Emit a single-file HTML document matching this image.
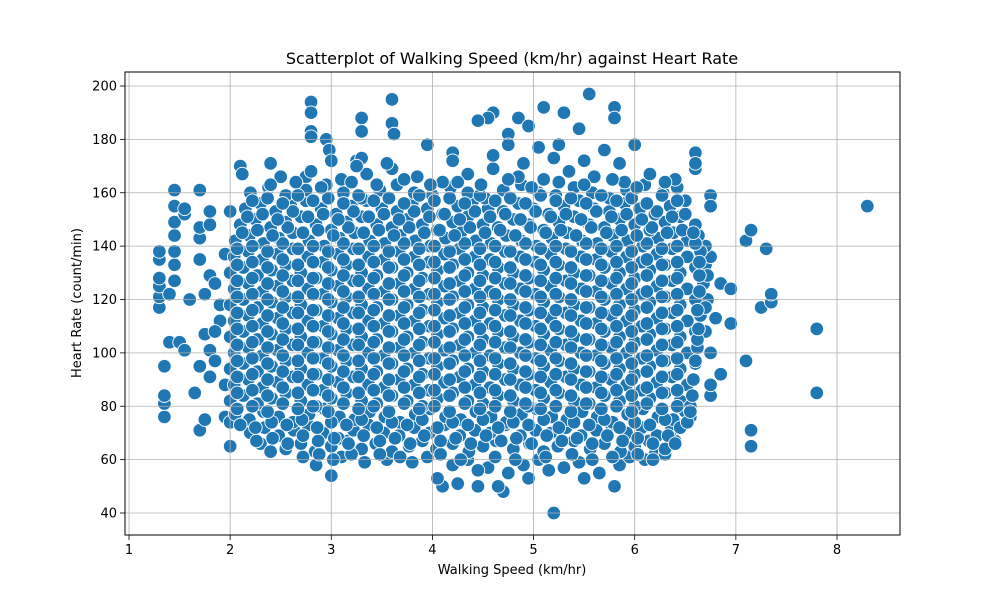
<!DOCTYPE html>
<html><head><meta charset="utf-8"><style>
body{margin:0;background:#fff;}
svg text{font-family:"DejaVu Sans","Liberation Sans",sans-serif;fill:#000;}
</style></head><body>
<svg id="chart" width="1000" height="600" viewBox="0 0 1000 600" xmlns="http://www.w3.org/2000/svg">
<rect width="1000" height="600" fill="#fff"/>
<g id="marks"></g>
<g id="grid"></g>
<rect x="125" y="72" width="775" height="463" fill="none" stroke="#000" stroke-width="1"/>
<g id="axes"></g>
<text x="512" y="64" font-size="16" text-anchor="middle">Scatterplot of Walking Speed (km/hr) against Heart Rate</text>
<text x="512" y="574" font-size="13" text-anchor="middle">Walking Speed (km/hr)</text>
<text x="0" y="0" font-size="13" text-anchor="middle" transform="translate(81,303) rotate(-90)">Heart Rate (count/min)</text>
</svg>
<script>
const xTicks = [1,2,3,4,5,6,7,8];
const yTicks = [40,60,80,100,120,140,160,180,200];
const observations = [
[1.3,117],[1.3,121],[1.3,125],[1.3,128],[1.3,135],[1.3,138],[1.35,76],[1.35,81],[1.35,84],[1.35,95],[1.4,104],[1.4,122],[1.45,127],[1.45,133],[1.45,138],[1.45,144],[1.45,149],[1.45,155],[1.45,161],[1.5,104],[1.55,101],[1.55,152],[1.55,154],[1.6,120],[1.65,85],[1.7,71],[1.7,95],[1.7,135],[1.7,143],[1.7,147],[1.7,161],[1.75,75],[1.75,107],[1.75,122],[1.8,91],[1.8,101],[1.8,129],[1.8,148],[1.8,153],[1.85,97],[1.85,126],[1.9,112],[1.95,76],[1.95,88],[1.95,137],[2.0,65],[2.0,74],[2.0,153],[1.9,118],[1.85,108],
[7.1,97],[7.1,142],[7.15,65],[7.15,71],[7.15,146],[7.25,117],[7.3,139],[7.35,119],[7.35,122],[7.8,85],[7.8,109],[8.3,155],[6.85,126],[6.8,113],[6.85,92],[6.95,124],[6.95,111],[6.75,84],[6.75,88],[6.75,159],[6.75,155],[6.7,133],[6.75,136],[6.7,140],[6.6,169],[6.6,175],[6.6,171],[6.7,108],[6.75,100],[6.72,120],
[5.2,40],[4.7,48],[5.8,50],[4.1,50],[4.05,53],[4.25,51],[4.45,50],[4.65,50],[4.95,53],[5.5,53],[2.8,194],[2.8,190],[2.8,183],[2.8,181],[3.6,195],[5.55,197],[5.8,192],[5.8,188],[5.1,192],[4.6,190],[4.55,188],[4.85,188],[5.3,190],[3.3,188],[3.3,183],[3.0,54],[2.85,58],[6.2,62],[6.3,62],[6.4,67],[6.55,76],[2.95,180],[2.98,176],[3.6,186],[3.62,182],[4.45,187],[4.95,185],[4.75,182],[5.45,184],[5.25,178],[6.0,178],[3.95,178],[2.4,171],[2.1,170],[2.12,167],[2.75,166],[3.25,172],[4.2,175],[5.7,176],
[3.8,59],[3.95,61],[4.2,58],[4.35,60],[4.55,57],[4.75,55],[4.9,58],[5.05,60],[5.3,57],[5.45,59],[5.65,55],[5.85,58],[3.55,60],[3.1,61],[5.95,61],[6.1,60],[4.45,56],[5.15,56],
[2.55,64],[2.7,66],[2.84,63],[3.0,65],[3.16,67],[3.3,64],[3.44,66],[3.6,63],[3.77,65],[3.9,67],[4.04,64],[4.2,66],[4.36,63],[4.5,65],[4.63,67],[4.8,64],[4.96,66],[5.1,63],[5.24,65],[5.4,67],[5.56,64],[5.7,66],[5.86,63],[6.0,65],[6.14,67],[6.3,64],[2.3,66],[2.4,63],
[2.2,70],[2.34,72],[2.48,69],[2.63,71],[2.77,73],[2.92,70],[3.07,68],[3.22,71],[3.37,73],[3.52,70],[3.67,69],[3.82,72],[3.97,70],[4.12,73],[4.27,69],[4.42,71],[4.57,70],[4.72,73],[4.87,69],[5.02,71],[5.17,70],[5.32,72],[5.47,69],[5.62,71],[5.77,73],[5.92,70],[6.07,72],[6.22,69],[6.36,71],[6.45,73],
[2.05,77],[2.19,75],[2.33,78],[2.48,76],[2.62,74],[2.78,77],[2.93,79],[3.08,76],[3.23,75],[3.38,78],[3.53,76],[3.68,74],[3.83,77],[3.98,79],[4.13,76],[4.28,75],[4.43,78],[4.58,76],[4.73,74],[4.88,77],[5.03,79],[5.18,76],[5.33,75],[5.48,78],[5.63,76],[5.78,74],[5.93,77],[6.08,79],[6.23,76],[6.38,75],[6.5,78],
[2.0,82],[2.13,84],[2.27,81],[2.41,83],[2.55,85],[2.7,82],[2.85,80],[3.0,83],[3.15,85],[3.3,82],[3.45,81],[3.6,84],[3.75,82],[3.9,80],[4.05,83],[4.2,85],[4.35,82],[4.5,81],[4.65,84],[4.8,82],[4.95,80],[5.1,83],[5.25,85],[5.4,82],[5.55,81],[5.7,84],[5.85,82],[6.0,80],[6.15,83],[6.3,85],[6.45,82],[6.55,80],
[2.04,88],[2.18,90],[2.32,87],[2.47,89],[2.62,91],[2.77,88],[2.92,86],[3.07,89],[3.22,91],[3.37,88],[3.52,87],[3.67,90],[3.82,88],[3.97,86],[4.12,89],[4.27,91],[4.42,88],[4.57,87],[4.72,90],[4.87,88],[5.02,86],[5.17,89],[5.32,91],[5.47,88],[5.62,87],[5.77,90],[5.92,88],[6.07,86],[6.22,89],[6.37,91],[6.52,88],
[2.0,94],[2.13,96],[2.27,93],[2.41,95],[2.55,97],[2.7,94],[2.85,92],[3.0,95],[3.15,97],[3.3,94],[3.45,93],[3.6,96],[3.75,94],[3.9,92],[4.05,95],[4.2,97],[4.35,94],[4.5,93],[4.65,96],[4.8,94],[4.95,92],[5.1,95],[5.25,97],[5.4,94],[5.55,93],[5.7,96],[5.85,94],[6.0,92],[6.15,95],[6.3,97],[6.45,94],[6.6,96],
[2.04,100],[2.18,102],[2.32,99],[2.47,101],[2.62,103],[2.77,100],[2.92,98],[3.07,101],[3.22,103],[3.37,100],[3.52,99],[3.67,102],[3.82,100],[3.97,98],[4.12,101],[4.27,103],[4.42,100],[4.57,99],[4.72,102],[4.87,100],[5.02,98],[5.17,101],[5.32,103],[5.47,100],[5.62,99],[5.77,102],[5.92,100],[6.07,98],[6.22,101],[6.37,103],[6.52,100],[6.62,102],
[2.0,106],[2.13,108],[2.27,105],[2.41,107],[2.55,109],[2.7,106],[2.85,104],[3.0,107],[3.15,109],[3.3,106],[3.45,105],[3.6,108],[3.75,106],[3.9,104],[4.05,107],[4.2,109],[4.35,106],[4.5,105],[4.65,108],[4.8,106],[4.95,104],[5.1,107],[5.25,109],[5.4,106],[5.55,105],[5.7,108],[5.85,106],[6.0,104],[6.15,107],[6.3,109],[6.45,106],[6.6,108],
[2.04,112],[2.18,114],[2.32,111],[2.47,113],[2.62,115],[2.77,112],[2.92,110],[3.07,113],[3.22,115],[3.37,112],[3.52,111],[3.67,114],[3.82,112],[3.97,110],[4.12,113],[4.27,115],[4.42,112],[4.57,111],[4.72,114],[4.87,112],[5.02,110],[5.17,113],[5.32,115],[5.47,112],[5.62,111],[5.77,114],[5.92,112],[6.07,110],[6.22,113],[6.37,115],[6.52,112],[6.65,114],
[2.0,118],[2.13,120],[2.27,117],[2.41,119],[2.55,121],[2.7,118],[2.85,116],[3.0,119],[3.15,121],[3.3,118],[3.45,117],[3.6,120],[3.75,118],[3.9,116],[4.05,119],[4.2,121],[4.35,118],[4.5,117],[4.65,120],[4.8,118],[4.95,116],[5.1,119],[5.25,121],[5.4,118],[5.55,117],[5.7,120],[5.85,118],[6.0,116],[6.15,119],[6.3,121],[6.45,118],[6.6,120],[6.7,117],
[2.04,124],[2.18,126],[2.32,123],[2.47,125],[2.62,127],[2.77,124],[2.92,122],[3.07,125],[3.22,127],[3.37,124],[3.52,123],[3.67,126],[3.82,124],[3.97,122],[4.12,125],[4.27,127],[4.42,124],[4.57,123],[4.72,126],[4.87,124],[5.02,122],[5.17,125],[5.32,127],[5.47,124],[5.62,123],[5.77,126],[5.92,124],[6.07,122],[6.22,125],[6.37,127],[6.52,124],[6.68,126],
[2.0,130],[2.13,132],[2.27,129],[2.41,131],[2.55,133],[2.7,130],[2.85,128],[3.0,131],[3.15,133],[3.3,130],[3.45,129],[3.6,132],[3.75,130],[3.9,128],[4.05,131],[4.2,133],[4.35,130],[4.5,129],[4.65,132],[4.8,130],[4.95,128],[5.1,131],[5.25,133],[5.4,130],[5.55,129],[5.7,132],[5.85,130],[6.0,128],[6.15,131],[6.3,133],[6.45,130],[6.6,132],[6.72,129],
[2.04,136],[2.18,138],[2.32,135],[2.47,137],[2.62,139],[2.77,136],[2.92,134],[3.07,137],[3.22,139],[3.37,136],[3.52,135],[3.67,138],[3.82,136],[3.97,134],[4.12,137],[4.27,139],[4.42,136],[4.57,135],[4.72,138],[4.87,136],[5.02,134],[5.17,137],[5.32,139],[5.47,136],[5.62,135],[5.77,138],[5.92,136],[6.07,134],[6.22,137],[6.37,139],[6.52,136],[6.65,138],
[2.05,142],[2.19,144],[2.33,141],[2.48,143],[2.62,145],[2.78,142],[2.93,140],[3.08,143],[3.23,145],[3.38,142],[3.53,141],[3.68,144],[3.83,142],[3.98,140],[4.13,143],[4.28,145],[4.43,142],[4.58,141],[4.73,144],[4.88,142],[5.03,140],[5.18,143],[5.33,145],[5.48,142],[5.63,141],[5.78,144],[5.93,142],[6.08,140],[6.23,143],[6.38,145],[6.52,142],[6.63,144],
[2.1,148],[2.25,150],[2.4,147],[2.55,149],[2.7,151],[2.85,148],[3.0,146],[3.15,149],[3.3,151],[3.45,148],[3.6,147],[3.75,150],[3.9,148],[4.05,146],[4.2,149],[4.35,151],[4.5,148],[4.65,147],[4.8,150],[4.95,148],[5.1,146],[5.25,149],[5.4,151],[5.55,148],[5.7,147],[5.85,150],[6.0,148],[6.15,146],[6.3,149],[6.45,151],[6.6,148],
[2.15,154],[2.3,156],[2.45,153],[2.6,155],[2.75,157],[2.9,154],[3.05,152],[3.2,155],[3.35,157],[3.5,154],[3.65,153],[3.8,156],[3.95,154],[4.1,152],[4.25,155],[4.4,157],[4.55,154],[4.7,153],[4.85,156],[5.0,154],[5.15,152],[5.3,155],[5.45,157],[5.6,154],[5.75,153],[5.9,156],[6.05,154],[6.2,152],[6.35,155],[6.5,157],
[2.2,160],[2.38,162],[2.55,159],[2.75,161],[2.95,163],[3.12,160],[3.3,158],[3.48,161],[3.65,163],[3.82,160],[4.0,159],[4.18,162],[4.35,160],[4.52,158],[4.7,161],[4.88,163],[5.05,160],[5.22,159],[5.4,162],[5.58,160],[5.75,158],[5.92,161],[6.1,163],[6.28,160],[6.42,162],
[2.5,166],[2.8,168],[3.1,165],[3.35,167],[3.6,169],[3.85,166],[4.1,164],[4.35,167],[4.6,169],[4.85,166],[5.1,165],[5.35,168],[5.6,166],[5.9,164],[6.15,167],[6.4,165],
[3.0,172],[3.3,173],[3.55,171],[4.2,172],[4.6,174],[4.9,171],[5.2,173],[5.5,172],[5.85,171],[4.75,178],[5.05,177],[3.25,170],
[2.72,61],[2.88,62],[3.02,60],[3.2,62],[3.33,59],[3.48,62],[3.68,61],[4.08,62],[4.28,60],[4.62,61],[4.82,60],[5.12,61],[5.38,62],[5.58,60],[5.78,61],[6.03,62],[6.18,60],
[2.26,67],[2.42,68],[2.57,66],[2.72,69],[2.87,67],[3.03,68],[3.17,66],[3.32,69],[3.48,67],[3.63,68],[3.78,66],[3.92,69],[4.08,67],[4.23,68],[4.38,66],[4.53,69],[4.68,67],[4.83,68],[4.98,66],[5.13,69],[5.28,67],[5.43,68],[5.58,66],[5.73,69],[5.88,67],[6.03,68],[6.18,66],[6.33,69],[6.4,66],
[2.1,73],[2.25,72],[2.41,74],[2.56,73],[2.71,75],[2.86,72],[3.0,74],[3.15,73],[3.3,75],[3.45,72],[3.6,74],[3.75,73],[3.9,75],[4.05,72],[4.2,74],[4.35,73],[4.5,75],[4.65,72],[4.8,74],[4.95,73],[5.1,75],[5.25,72],[5.4,74],[5.55,73],[5.7,75],[5.85,72],[6.0,74],[6.15,73],[6.3,75],[6.45,72],[6.52,74],
[2.07,79],[2.22,80],[2.37,78],[2.52,81],[2.67,79],[2.82,80],[2.97,78],[3.12,81],[3.27,79],[3.42,80],[3.57,78],[3.72,81],[3.87,79],[4.02,80],[4.17,78],[4.32,81],[4.47,79],[4.62,80],[4.77,78],[4.92,81],[5.07,79],[5.22,80],[5.37,78],[5.52,81],[5.67,79],[5.82,80],[5.97,78],[6.12,81],[6.27,79],[6.42,80],[6.55,78],
[2.07,85],[2.22,86],[2.37,84],[2.52,87],[2.67,85],[2.82,86],[2.97,84],[3.12,87],[3.27,85],[3.42,86],[3.57,84],[3.72,87],[3.87,85],[4.02,86],[4.17,84],[4.32,87],[4.47,85],[4.62,86],[4.77,84],[4.92,87],[5.07,85],[5.22,86],[5.37,84],[5.52,87],[5.67,85],[5.82,86],[5.97,84],[6.12,87],[6.27,85],[6.42,86],[6.57,84],
[2.07,91],[2.22,92],[2.37,90],[2.52,93],[2.67,91],[2.82,92],[2.97,90],[3.12,93],[3.27,91],[3.42,92],[3.57,90],[3.72,93],[3.87,91],[4.02,92],[4.17,90],[4.32,93],[4.47,91],[4.62,92],[4.77,90],[4.92,93],[5.07,91],[5.22,92],[5.37,90],[5.52,93],[5.67,91],[5.82,92],[5.97,90],[6.12,93],[6.27,91],[6.42,92],[6.58,90],
[2.07,97],[2.22,98],[2.37,96],[2.52,99],[2.67,97],[2.82,98],[2.97,96],[3.12,99],[3.27,97],[3.42,98],[3.57,96],[3.72,99],[3.87,97],[4.02,98],[4.17,96],[4.32,99],[4.47,97],[4.62,98],[4.77,96],[4.92,99],[5.07,97],[5.22,98],[5.37,96],[5.52,99],[5.67,97],[5.82,98],[5.97,96],[6.12,99],[6.27,97],[6.42,98],[6.6,97],
[2.07,103],[2.22,104],[2.37,102],[2.52,105],[2.67,103],[2.82,104],[2.97,102],[3.12,105],[3.27,103],[3.42,104],[3.57,102],[3.72,105],[3.87,103],[4.02,104],[4.17,102],[4.32,105],[4.47,103],[4.62,104],[4.77,102],[4.92,105],[5.07,103],[5.22,104],[5.37,102],[5.52,105],[5.67,103],[5.82,104],[5.97,102],[6.12,105],[6.27,103],[6.42,104],[6.62,105],
[2.07,109],[2.22,110],[2.37,108],[2.52,111],[2.67,109],[2.82,110],[2.97,108],[3.12,111],[3.27,109],[3.42,110],[3.57,108],[3.72,111],[3.87,109],[4.02,110],[4.17,108],[4.32,111],[4.47,109],[4.62,110],[4.77,108],[4.92,111],[5.07,109],[5.22,110],[5.37,108],[5.52,111],[5.67,109],[5.82,110],[5.97,108],[6.12,111],[6.27,109],[6.42,110],[6.63,109],
[2.07,115],[2.22,116],[2.37,114],[2.52,117],[2.67,115],[2.82,116],[2.97,114],[3.12,117],[3.27,115],[3.42,116],[3.57,114],[3.72,117],[3.87,115],[4.02,116],[4.17,114],[4.32,117],[4.47,115],[4.62,116],[4.77,114],[4.92,117],[5.07,115],[5.22,116],[5.37,114],[5.52,117],[5.67,115],[5.82,116],[5.97,114],[6.12,117],[6.27,115],[6.42,116],[6.62,116],
[2.07,121],[2.22,122],[2.37,120],[2.52,123],[2.67,121],[2.82,122],[2.97,120],[3.12,123],[3.27,121],[3.42,122],[3.57,120],[3.72,123],[3.87,121],[4.02,122],[4.17,120],[4.32,123],[4.47,121],[4.62,122],[4.77,120],[4.92,123],[5.07,121],[5.22,122],[5.37,120],[5.52,123],[5.67,121],[5.82,122],[5.97,120],[6.12,123],[6.27,121],[6.42,122],[6.64,123],
[2.07,127],[2.22,128],[2.37,126],[2.52,129],[2.67,127],[2.82,128],[2.97,126],[3.12,129],[3.27,127],[3.42,128],[3.57,126],[3.72,129],[3.87,127],[4.02,128],[4.17,126],[4.32,129],[4.47,127],[4.62,128],[4.77,126],[4.92,129],[5.07,127],[5.22,128],[5.37,126],[5.52,129],[5.67,127],[5.82,128],[5.97,126],[6.12,129],[6.27,127],[6.42,128],[6.64,129],
[2.07,133],[2.22,134],[2.37,132],[2.52,135],[2.67,133],[2.82,134],[2.97,132],[3.12,135],[3.27,133],[3.42,134],[3.57,132],[3.72,135],[3.87,133],[4.02,134],[4.17,132],[4.32,135],[4.47,133],[4.62,134],[4.77,132],[4.92,135],[5.07,133],[5.22,134],[5.37,132],[5.52,135],[5.67,133],[5.82,134],[5.97,132],[6.12,135],[6.27,133],[6.42,134],[6.64,134],
[2.07,139],[2.22,140],[2.37,138],[2.52,141],[2.67,139],[2.82,140],[2.97,138],[3.12,141],[3.27,139],[3.42,140],[3.57,138],[3.72,141],[3.87,139],[4.02,140],[4.17,138],[4.32,141],[4.47,139],[4.62,140],[4.77,138],[4.92,141],[5.07,139],[5.22,140],[5.37,138],[5.52,141],[5.67,139],[5.82,140],[5.97,138],[6.12,141],[6.27,139],[6.42,140],[6.6,141],
[2.12,145],[2.27,146],[2.42,144],[2.57,147],[2.72,145],[2.87,146],[3.02,144],[3.17,147],[3.32,145],[3.47,146],[3.62,144],[3.77,147],[3.92,145],[4.07,146],[4.22,144],[4.37,147],[4.52,145],[4.67,146],[4.82,144],[4.97,147],[5.12,145],[5.27,146],[5.42,144],[5.57,147],[5.72,145],[5.87,146],[6.02,144],[6.17,147],[6.32,145],[6.47,146],[6.58,145],
[2.17,151],[2.32,152],[2.47,150],[2.62,153],[2.77,151],[2.92,152],[3.07,150],[3.22,153],[3.37,151],[3.52,152],[3.67,150],[3.82,153],[3.97,151],[4.12,152],[4.27,150],[4.42,153],[4.57,151],[4.72,152],[4.87,150],[5.02,153],[5.17,151],[5.32,152],[5.47,150],[5.62,153],[5.77,151],[5.92,152],[6.07,150],[6.22,153],[6.37,151],[6.5,152],
[2.22,157],[2.37,158],[2.52,156],[2.67,159],[2.82,157],[2.97,158],[3.12,156],[3.27,159],[3.42,157],[3.57,158],[3.72,156],[3.87,159],[4.02,157],[4.17,158],[4.32,156],[4.47,159],[4.62,157],[4.77,158],[4.92,156],[5.07,159],[5.22,157],[5.37,158],[5.52,156],[5.67,159],[5.82,157],[5.97,158],[6.12,156],[6.27,159],[6.42,157],
[2.4,163],[2.65,164],[2.9,162],[3.2,164],[3.45,163],[3.72,165],[3.98,163],[4.25,164],[4.48,163],[4.75,165],[4.98,162],[5.25,164],[5.5,163],[5.78,165],[6.02,162],[6.3,164]
];
const NS='http://www.w3.org/2000/svg';
const X0=125,X1=900,Y0=72,Y1=535;
function xScale(v){return 129+(v-1)*(837-129)/7;}
function yScale(v){return 513-(v-40)*(513-86)/160;}
function mk(tag,attrs){const e=document.createElementNS(NS,tag);for(const k in attrs)e.setAttribute(k,attrs[k]);return e;}
const grid=document.getElementById('grid'),axes=document.getElementById('axes'),marks=document.getElementById('marks');
xTicks.forEach(t=>{
  const x=xScale(t);
  const g=mk('line',{x1:x,x2:x,y1:Y0,y2:Y1,stroke:'#b0b0b0','stroke-width':0.8});
  
  
  grid.appendChild(g);
  const tk=mk('line',{x1:x,x2:x,y1:Y1,y2:Y1+5,stroke:'#000','stroke-width':0.8});
  
  
  axes.appendChild(tk);
  const lb=mk('text',{x:x,y:Y1+19,'font-size':13,'text-anchor':'middle'});
  lb.textContent=t;
  
  
  axes.appendChild(lb);
});
yTicks.forEach(t=>{
  const y=yScale(t);
  const g=mk('line',{x1:X0,x2:X1,y1:y,y2:y,stroke:'#b0b0b0','stroke-width':0.8});
  
  
  grid.appendChild(g);
  const tk=mk('line',{x1:X0-5,x2:X0,y1:y,y2:y,stroke:'#000','stroke-width':0.8});
  
  
  axes.appendChild(tk);
  const lb=mk('text',{x:X0-8,y:y+4.5,'font-size':13,'text-anchor':'end'});
  lb.textContent=t;
  
  
  axes.appendChild(lb);
});
observations.forEach(p=>{
  const c=mk('circle',{cx:xScale(p[0]),cy:yScale(p[1]),r:6.8,fill:'#1f77b4',stroke:'#fff','stroke-width':0.9});
  
  
  marks.appendChild(c);
});
</script>
</body></html>
